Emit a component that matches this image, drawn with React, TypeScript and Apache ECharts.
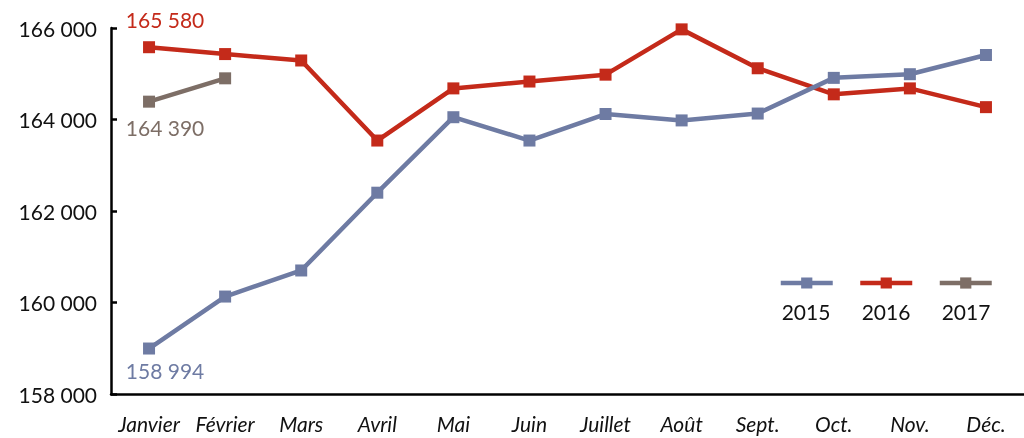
import React, { useEffect, useRef } from "react";
import * as echarts from "echarts";

const months = ["Janvier", "Février", "Mars", "Avril", "Mai", "Juin", "Juillet", "Août", "Sept.", "Oct.", "Nov.", "Déc."];
const s2015 = [158994, 160130, 160700, 162400, 164050, 163540, 164120, 163980, 164130, 164910, 164990, 165410];
const s2016 = [165580, 165430, 165290, 163540, 164680, 164830, 164980, 165970, 165120, 164550, 164680, 164270];
const s2017 = [164390, 164900];
const seriesNames = ["2015", "2016", "2017"];
const colors = ["#6E7BA3", "#C42A1A", "#7D6E66"];
const yTicks = { min: 158000, max: 166000, interval: 2000 };

const fmt = (v: number) => {
  const s = String(Math.round(v));
  return s.replace(/\B(?=(\d{3})+(?!\d))/g, " ");
};

const FONT = "Lato, 'Open Sans', sans-serif";

export default function App() {
  const ref = useRef<HTMLDivElement>(null);
  useEffect(() => {
    if (!ref.current) return;
    const chart = echarts.init(ref.current, undefined, { renderer: "svg" });
    const mk = (idx: number, vals: number[], labelCfg: any) => ({
      name: seriesNames[idx],
      type: "line",
      data: vals.map((v, i) =>
        i === 0
          ? { value: v, label: { show: true, formatter: (p: any) => fmt(p.value), ...labelCfg } }
          : v
      ),
      symbol: "rect",
      symbolSize: 12,
      lineStyle: { width: 4.5, color: colors[idx] },
      itemStyle: { color: colors[idx] },
      label: { show: false, color: colors[idx], fontSize: 21, fontFamily: FONT },
      z: 3 - idx,
    });
    const itemW = 52;
    const pitch = 80;
    const lastCenter = 966;
    const legendCenters = seriesNames.map((_, i) => lastCenter - (seriesNames.length - 1 - i) * pitch);
    chart.setOption({
      animation: false,
      textStyle: { fontFamily: FONT },
      grid: { left: 111, right: 0, top: 28, bottom: 44, containLabel: false },
      legend: {
        right: 25,
        top: 271,
        itemWidth: itemW,
        itemHeight: 14,
        itemGap: 23,
        data: seriesNames,
        formatter: () => "",
        lineStyle: { width: 4.5 },
        textStyle: { fontSize: 1 },
      },
      graphic: seriesNames.map((n, i) => ({
        type: "text",
        x: legendCenters[i],
        y: 311,
        style: { text: n, fontSize: 21, fill: "#111", fontFamily: FONT, textAlign: "center", textVerticalAlign: "middle" },
      })),
      xAxis: {
        type: "category",
        data: months,
        boundaryGap: true,
        axisLine: { lineStyle: { color: "#000", width: 2.5 } },
        axisTick: { inside: true, length: 6, lineStyle: { color: "#000", width: 2.5 } },
        axisLabel: { color: "#111", fontSize: 21, fontStyle: "italic", margin: 19, fontFamily: FONT, interval: 0 },
      },
      yAxis: {
        type: "value",
        min: yTicks.min,
        max: yTicks.max,
        interval: yTicks.interval,
        splitLine: { show: false },
        axisLine: { show: true, lineStyle: { color: "#000", width: 2.5 } },
        axisTick: { show: true, inside: true, length: 6, lineStyle: { color: "#000", width: 2.5 } },
        axisLabel: { color: "#111", fontSize: 21, margin: 14, fontFamily: FONT, formatter: (v: number) => fmt(v) },
      },
      series: [
        mk(0, s2015, { position: "bottom", offset: [16, 0] }),
        mk(1, s2016, { position: "top", offset: [16, -6] }),
        mk(2, s2017, { position: "bottom", offset: [16, 4] }),
      ],
    });
    return () => chart.dispose();
  }, []);
  return <div ref={ref} style={{ width: 1024, height: 438, position: "fixed", left: 0, top: 0 }} />;
}
